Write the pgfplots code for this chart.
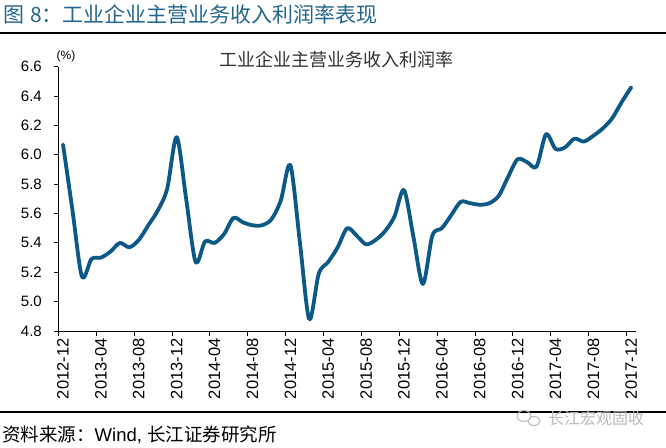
\documentclass[border=0pt]{standalone}
\usepackage{fontspec}
\setmainfont{Liberation Sans}
\newfontfamily\cjk{Noto Sans CJK SC}
\usepackage{pgfplots}
\pgfplotsset{compat=1.18}
\definecolor{linecol}{RGB}{12,88,134}
\definecolor{titlecol}{RGB}{34,102,140}
\definecolor{marktxt}{RGB}{185,185,185}

\begin{document}
\begin{tikzpicture}[x=1pt,y=1pt]
\useasboundingbox (0,0) rectangle (666,447);

% heading and rules
\node[anchor=west, text=titlecol, inner sep=0,
      font=\cjk\fontsize{21}{24}\selectfont] at (3,433) {图\hspace{6pt}8：工业企业主营业务收入利润率表现};
\draw[line width=2.5pt] (0,414) -- (666,414);

\begin{axis}[
  at={(58.3pt,380.3pt)}, anchor=north west,
  scale only axis, width=577.7pt, height=264.3pt,
  xmin=-0.5, xmax=60.5, ymin=4.8, ymax=6.6,
  axis x line*=bottom, axis y line*=left,
  axis line style={-, black, line width=0.8pt},
  tick align=outside, major tick length=4pt, minor tick length=5pt,
  ytick={4.8,5.0,5.2,5.4,5.6,5.8,6.0,6.2,6.4,6.6},
  yticklabel style={/pgf/number format/fixed, /pgf/number format/precision=1,
                    /pgf/number format/fixed zerofill, xshift=-9pt},
  /pgf/number format/assume math mode=true,
  tick label style={font=\fontsize{15}{17}\selectfont},
  xtick={0,4,...,60},
  xticklabels={2012-12,2013-04,2013-08,2013-12,2014-04,2014-08,2014-12,2015-04,
               2015-08,2015-12,2016-04,2016-08,2016-12,2017-04,2017-08,2017-12},
  xticklabel style={rotate=90, anchor=east, font=\fontsize{16.5}{18}\selectfont},
  minor xtick={-0.5,3.5,...,59.5},
  every major x tick/.style={draw=none},
  every minor x tick/.style={black, line width=0.8pt},
  every major y tick/.style={black, line width=0.8pt},
  clip=false,
]
\addplot[linecol, line width=3.8pt, smooth, line join=round, line cap=round] coordinates {
(0,6.07) (1,5.62) (2,5.17) (3,5.29) (4,5.30) (5,5.34) (6,5.40) (7,5.37) (8,5.42) (9,5.52)
(10,5.62) (11,5.77) (12,6.12) (13,5.70) (14,5.27) (15,5.41) (16,5.40) (17,5.46) (18,5.57) (19,5.54)
(20,5.52) (21,5.52) (22,5.56) (23,5.69) (24,5.93) (25,5.41) (26,4.88) (27,5.19) (28,5.27) (29,5.37)
(30,5.50) (31,5.45) (32,5.39) (33,5.42) (34,5.48) (35,5.58) (36,5.76) (37,5.44) (38,5.12) (39,5.45)
(40,5.50) (41,5.59) (42,5.68) (43,5.67) (44,5.66) (45,5.67) (46,5.72) (47,5.85) (48,5.97) (49,5.95)
(50,5.92) (51,6.14) (52,6.04) (53,6.05) (54,6.11) (55,6.09) (56,6.13) (57,6.18) (58,6.25) (59,6.36)
(60,6.46)
};
\end{axis}

% chart title and unit
\node[text=black!80, font=\cjk\fontsize{18}{20}\selectfont] at (336,387) {工业企业主营业务收入利润率};
\node[font=\fontsize{12}{14}\selectfont] at (66,391) {(\%)};

% bottom rule, source, mark
\draw[line width=2.2pt] (0,35.3) -- (666,35.3);
\node[anchor=west, inner sep=0, font=\fontsize{18.5}{20}\selectfont] at (2,12)
  {{\cjk 资料来源：}Wind, {\cjk 长江证券研究所}};
\draw[marktxt, line width=1pt] (524,31) ellipse (7 and 5.5) (534,26) ellipse (6 and 4.5);
\node[anchor=west, inner sep=0, text=marktxt, font=\cjk\fontsize{16}{18}\selectfont] at (548,29) {长江宏观固收};
\end{tikzpicture}
\end{document}
